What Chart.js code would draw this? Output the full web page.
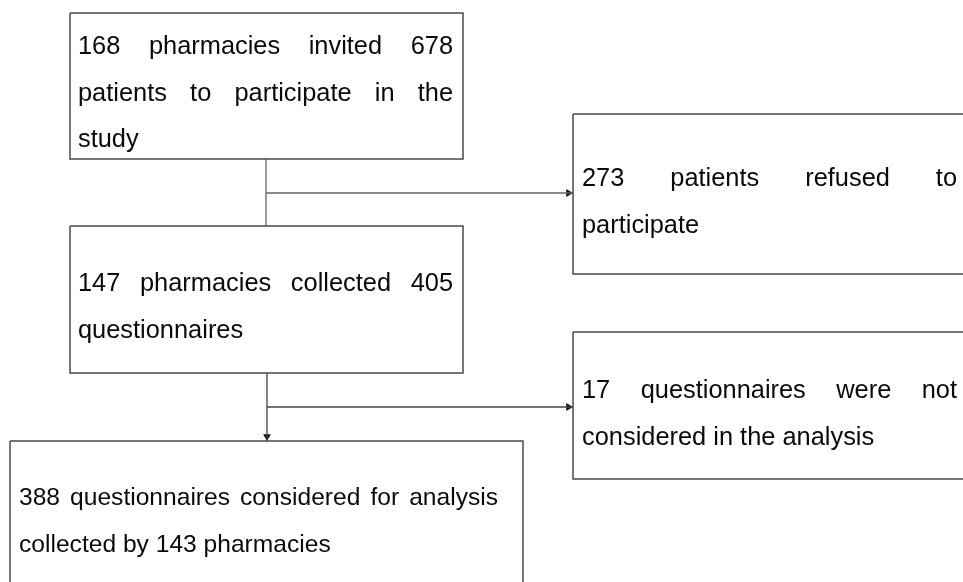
<!DOCTYPE html>
<html>
<head>
<meta charset="utf-8">
<script src="https://cdn.jsdelivr.net/npm/chart.js@4/dist/chart.umd.min.js"></script>
<style>
  html, body { margin: 0; padding: 0; background: #fff; }
  #wrap { width: 963px; height: 582px; }
</style>
</head>
<body>
<div id="wrap"><canvas id="flow"></canvas></div>
<script>
// flowchart texts, one line each as in the picture
var box_texts = [
    ["168 pharmacies invited 678", "patients to participate in the", "study"],
    ["273 patients refused to", "participate"],
    ["147 pharmacies collected 405", "questionnaires"],
    ["17 questionnaires were not", "considered in the analysis"],
    ["388 questionnaires considered for analysis", "collected by 143 pharmacies"]
];

// box frames (page units, y goes down)
var box_left   = [70, 573, 70, 573, 10];
var box_top    = [13, 114, 226, 332, 441];
var box_right  = [463, 975, 463, 975, 523];
var box_bottom = [159, 274, 373, 479, 600];
// text area inside each box
var text_left  = [78, 582, 78, 582, 19];
var text_right = [453, 957, 453, 957, 498];
var first_base = [54, 186, 291, 398, 505];
var tam_fonte  = [25.4, 25.4, 25.4, 25.4, 24.6];
var line_step = 46.5;

// connectors: [x0, y0, x1, y1, arrow direction]
var links = [
    [266, 159, 266, 226, null],
    [266, 193, 573, 193, 'right'],
    [267, 373, 267, 441, 'down'],
    [267, 407, 573, 407, 'right']
];

var seta_r = 4.5;

var datasets = [];
for (var i = 0; i < box_texts.length; i++) {
    datasets.push({
        data: [
            {x: box_left[i], y: box_top[i]},
            {x: box_right[i], y: box_top[i]},
            {x: box_right[i], y: box_bottom[i]},
            {x: box_left[i], y: box_bottom[i]},
            {x: box_left[i], y: box_top[i]}
        ],
        showLine: true,
        borderColor: '#4a4a4a',
        borderWidth: 1.5,
        pointRadius: 0,
        fill: false,
        clip: false
    });
}
for (var k = 0; k < links.length; k++) {
    var l = links[k];
    datasets.push({
        data: [{x: l[0], y: l[1]}, {x: l[2], y: l[3]}],
        showLine: true,
        borderColor: k == 0 || k == 1 ? '#666' : '#444',
        borderWidth: 1.3,
        pointRadius: 0,
        clip: false
    });
    if (l[4]) {
        // arrow head just before the end point
        var px = l[4] == 'right' ? l[2] - seta_r : l[2];
        var py = l[4] == 'down' ? l[3] - seta_r : l[3];
        datasets.push({
            data: [{x: px, y: py}],
            showLine: false,
            pointStyle: 'triangle',
            rotation: l[4] == 'right' ? 90 : 180,
            pointRadius: seta_r,
            backgroundColor: '#111',
            borderColor: '#111',
            borderWidth: 0,
            clip: false
        });
    }
}

var textos = {
    id: 'textos',
    afterDatasetsDraw: function (chart) {
        var ctx = chart.ctx;
        var sx = chart.scales.x, sy = chart.scales.y;
        ctx.save();
        ctx.fillStyle = '#0a0a0a';
        ctx.textBaseline = 'alphabetic';
        ctx.textAlign = 'left';
        for (var i = 0; i < box_texts.length; i++) {
            ctx.font = tam_fonte[i] + 'px "Liberation Sans", Arial, sans-serif';
            var linhas = box_texts[i];
            var x0 = sx.getPixelForValue(text_left[i]);
            var x1 = sx.getPixelForValue(text_right[i]);
            for (var j = 0; j < linhas.length; j++) {
                var y = sy.getPixelForValue(first_base[i] + j * line_step);
                var palavras = linhas[j].split(' ');
                var ultima = j == linhas.length - 1;
                var soma = 0;
                palavras.forEach(function (p) { soma += ctx.measureText(p).width; });
                var gap = ctx.measureText(' ').width;
                if (!ultima && palavras.length > 1) {
                    var g = (x1 - x0 - soma) / (palavras.length - 1);
                    if (g > gap) gap = g;
                }
                var x = x0;
                palavras.forEach(function (p) {
                    ctx.fillText(p, x, y);
                    x += ctx.measureText(p).width + gap;
                });
            }
        }
        ctx.restore();
    }
};

new Chart(document.getElementById('flow'), {
    type: 'scatter',
    data: { datasets: datasets },
    options: {
        responsive: true,
        maintainAspectRatio: false,
        animation: false,
        layout: { padding: 0, autoPadding: false },
        plugins: { legend: { display: false }, tooltip: { enabled: false } },
        scales: {
            x: { type: 'linear', min: 0, max: 963, display: false },
            y: { type: 'linear', min: 0, max: 582, reverse: true, display: false }
        }
    },
    plugins: [textos]
});
</script>
</body>
</html>
